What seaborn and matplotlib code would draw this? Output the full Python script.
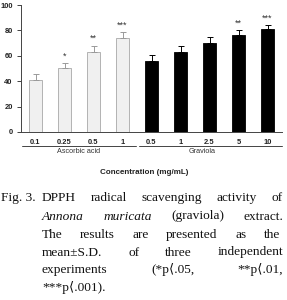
import matplotlib
matplotlib.use("Agg")
import matplotlib.pyplot as plt
import matplotlib.transforms as mtransforms
import seaborn as sns
import pandas as pd
import numpy as np

# ---- data ----
groups = ["Ascorbic acid"] * 4 + ["Graviola"] * 5
conc_labels = ["0.1", "0.25", "0.5", "1", "0.5", "1", "2.5", "5", "10"]
means = [41, 50, 63, 74, 56, 63, 70, 76, 81]
sds = [5, 4, 5, 4.5, 5, 4.5, 4.5, 4, 3]
stars = ["", "*", "**", "***", "", "", "", "**", "***"]
y_ticks = [0, 20, 40, 60, 80, 100]

W, H = 287, 300
sns.set_theme(style="white")
plt.rcParams["font.family"] = ["Liberation Sans", "DejaVu Sans"]

fig = plt.figure(figsize=(W / 100, H / 100), dpi=100)
ax = fig.add_axes([21 / W, 1 - 132 / H, (282 - 21) / W, (132 - 5) / H])

keys = [f"{g}|{c}" for g, c in zip(groups, conc_labels)]
df = pd.DataFrame({"key": keys, "mean": means, "group": groups})
palette = {"Ascorbic acid": "#f0f0f0", "Graviola": "#000000"}
sns.barplot(data=df, x="key", y="mean", hue="group", palette=palette,
            dodge=False, width=0.42, legend=False, ax=ax, errorbar=None)

edge = {"Ascorbic acid": "#a8a8a8", "Graviola": "#000000"}
errc = {"Ascorbic acid": "#9a9a9a", "Graviola": "#000000"}
for p in ax.patches:
    if p.get_height() == 0:
        continue
    xc = p.get_x() + p.get_width() / 2
    i = int(round(xc))
    p.set_edgecolor(edge[groups[i]])
    p.set_linewidth(0.6)

for i in range(len(means)):
    ax.errorbar(i, means[i], yerr=[[0], [sds[i]]], fmt="none",
                ecolor=errc[groups[i]], elinewidth=0.7, capsize=2, capthick=0.7)
    if stars[i]:
        ax.text(i, means[i] + sds[i] + 2.0, stars[i], ha="center", va="bottom",
                fontsize=6.5, color="#333333")

ax.set_xlim(-0.5, 8.5)
ax.set_ylim(0, 100)
ax.set_yticks(y_ticks)
ax.set_yticklabels([str(t) for t in y_ticks], fontsize=5.4, fontweight="bold")
ax.set_xticks(range(len(conc_labels)))
ax.set_xticklabels(conc_labels, fontsize=5.4, fontweight="bold")
ax.set_xlabel("")
ax.set_ylabel("")
ax.tick_params(axis="y", direction="out", length=3, width=0.6, pad=3, colors="#222222", left=True)
ax.tick_params(axis="x", length=0, pad=5, colors="#222222")
for s in ["top", "right"]:
    ax.spines[s].set_visible(False)
for s in ["left", "bottom"]:
    ax.spines[s].set_color("#444444")
    ax.spines[s].set_linewidth(0.7)

# group underlines and labels
trans = mtransforms.blended_transform_factory(ax.transData, ax.transAxes)
yl = -(146 - 132) / 127
ax.plot([-0.47, 3.45], [yl, yl], transform=trans, color="#444444", lw=0.7, clip_on=False)
ax.plot([3.58, 8.5], [yl, yl], transform=trans, color="#444444", lw=0.7, clip_on=False)
yg = -(152 - 132) / 127
ax.text(1.5, yg, "Ascorbic acid", transform=trans, ha="center", va="center", fontsize=5.2, color="#333333")
ax.text(5.75, yg, "Graviola", transform=trans, ha="center", va="center", fontsize=5.2, color="#333333")

fig.text(144 / W, 1 - 173 / H, "Concentration (mg/mL)", ha="center", va="center",
         fontsize=5.8, fontweight="bold", color="#222222")

# ---- caption (justified) ----
serif = ["Liberation Serif", "DejaVu Serif", "Noto Sans CJK KR"]
cap_fs = 9.6
renderer = fig.canvas.get_renderer()


def place_line(words, y, x0=42, x1=283, justify=True):
    objs = []
    for w, style in words:
        t = fig.text(0, 1 - y / H, w, fontsize=cap_fs, family=serif, style=style,
                     va="center", ha="left", color="#111111")
        objs.append(t)
    widths = [o.get_window_extent(renderer).width for o in objs]
    if justify and len(objs) > 1:
        gap = (x1 - x0 - sum(widths)) / (len(objs) - 1)
    else:
        gap = 3.2
    x = x0
    for o, wd in zip(objs, widths):
        o.set_x(x / W)
        x += wd + gap


lt = "\u27e8"
fig.text(36 / W, 1 - 198 / H, "Fig. 3.", fontsize=cap_fs, family=serif,
         va="center", ha="right", color="#111111")
place_line([(w, "normal") for w in "DPPH radical scavenging activity of".split()], 198)
place_line([("Annona", "italic"), ("muricata", "italic"), ("(graviola)", "normal"),
            ("extract.", "normal")], 216.5)
place_line([(w, "normal") for w in "The results are presented as the".split()], 235, x1=280)
place_line([(w, "normal") for w in "mean\u00b1S.D. of three independent".split()], 252.5)
place_line([(w, "normal") for w in f"experiments (*p{lt}.05, **p{lt}.01,".split()], 270)
place_line([(f"***p{lt}.001).", "normal")], 288, justify=False)

fig.savefig("out.png", dpi=100)
